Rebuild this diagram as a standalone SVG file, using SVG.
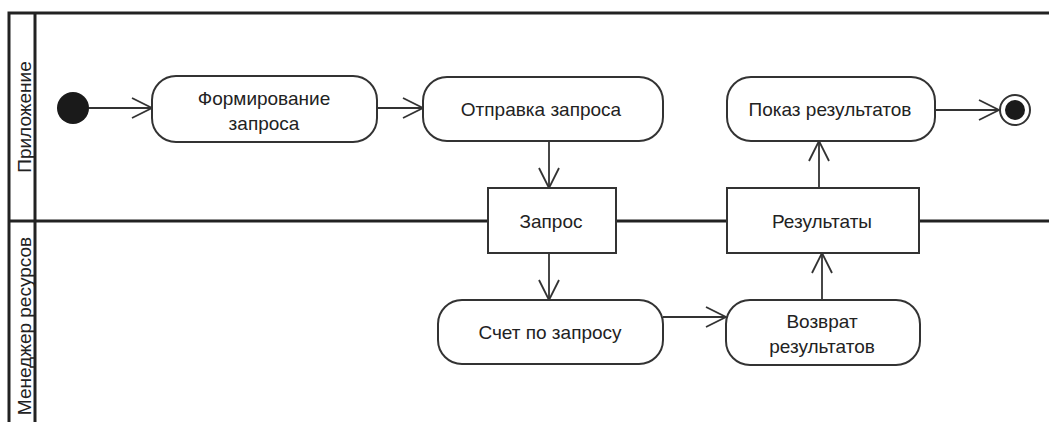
<svg xmlns="http://www.w3.org/2000/svg" width="1049" height="422" viewBox="0 0 1049 422">
<defs>
<style>
.frame{fill:none;stroke:#222;stroke-width:3}
.node{fill:#fff;stroke:#333;stroke-width:2}
.edge{fill:none;stroke:#333;stroke-width:1.8}
.t{font-family:"Liberation Sans",Arial,sans-serif;font-size:19px;fill:#222;text-anchor:middle}
</style>
<marker id="arr" viewBox="0 0 22 22" refX="21" refY="11" markerWidth="22" markerHeight="22" markerUnits="userSpaceOnUse" orient="auto">
<path d="M1,1 L21,11 L1,21" fill="none" stroke="#333" stroke-width="1.8"/>
</marker>
</defs>
<rect width="1049" height="422" fill="#fff"/>
<g id="lanes">
<path class="frame" d="M1049,13 H9 V422 M35,13 V422 M9,221 H1049"/>
<text class="t" transform="translate(31,117) rotate(-90)">Приложение</text>
<text class="t" transform="translate(31,326) rotate(-90)">Менеджер ресурсов</text>
</g>
<g id="connectors">
<line class="edge" x1="89" y1="108" x2="152" y2="108" marker-end="url(#arr)"/>
<line class="edge" x1="377" y1="108" x2="423" y2="108" marker-end="url(#arr)"/>
<line class="edge" x1="549" y1="141" x2="549" y2="188" marker-end="url(#arr)"/>
<line class="edge" x1="549" y1="253" x2="549" y2="300" marker-end="url(#arr)"/>
<line class="edge" x1="663" y1="317" x2="726" y2="317" marker-end="url(#arr)"/>
<line class="edge" x1="822" y1="300" x2="822" y2="253" marker-end="url(#arr)"/>
<line class="edge" x1="819" y1="188" x2="819" y2="141" marker-end="url(#arr)"/>
<line class="edge" x1="935" y1="110" x2="999" y2="110" marker-end="url(#arr)"/>
</g>
<g id="start"><circle cx="73" cy="108" r="16" fill="#1a1a1a"/></g>
<g id="n1"><rect class="node" x="152" y="76" width="225" height="66" rx="24"/><text class="t" x="264" y="105">Формирование</text><text class="t" x="264" y="130">запроса</text></g>
<g id="n2"><rect class="node" x="423" y="77" width="240" height="64" rx="24"/><text class="t" x="541" y="116">Отправка запроса</text></g>
<g id="obj1"><rect class="node" x="488" y="188" width="128" height="65"/><text class="t" x="551" y="228">Запрос</text></g>
<g id="n3"><rect class="node" x="438" y="300" width="225" height="64" rx="24"/><text class="t" x="550" y="339">Счет по запросу</text></g>
<g id="n4"><rect class="node" x="726" y="300" width="194" height="65" rx="24"/><text class="t" x="822" y="328">Возврат</text><text class="t" x="822" y="353">результатов</text></g>
<g id="obj2"><rect class="node" x="727" y="188" width="192" height="65"/><text class="t" x="822" y="228">Результаты</text></g>
<g id="n5"><rect class="node" x="727" y="77" width="208" height="64" rx="24"/><text class="t" x="830" y="116">Показ результатов</text></g>
<g id="end"><circle cx="1015" cy="110" r="15" fill="#fff" stroke="#333" stroke-width="2"/><circle cx="1015" cy="110" r="10" fill="#1a1a1a"/></g>
</svg>
